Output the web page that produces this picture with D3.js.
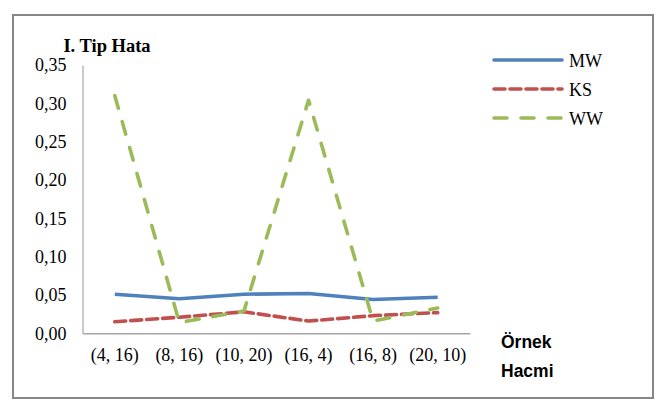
<!DOCTYPE html>
<html>
<head>
<meta charset="utf-8">
<script src="https://cdn.jsdelivr.net/npm/d3@7"></script>
<style>
  body { margin: 0; background: #fff; }
  svg { display: block; }
  .serif { font-family: "Liberation Serif", "Times New Roman", serif; }
  .sans { font-family: "Liberation Sans", Arial, sans-serif; }
</style>
</head>
<body>
<svg id="chart" width="663" height="400"></svg>
<script>
// Sample size pairs along the x axis
const categories = ["(4, 16)", "(8, 16)", "(10, 20)", "(16, 4)", "(16, 8)", "(20, 10)"];
// Type I error rates per test
const mwValues = [0.051, 0.045, 0.051, 0.052, 0.044, 0.047];
const ksValues = [0.015, 0.021, 0.028, 0.016, 0.023, 0.027];
const wwValues = [0.310, 0.014, 0.029, 0.304, 0.016, 0.033];
const yTicks = [0, 0.05, 0.10, 0.15, 0.20, 0.25, 0.30, 0.35];
const seriesNames = ["MW", "KS", "WW"];

const series = [
  { name: seriesNames[0], values: mwValues, color: "#4f81bd", dash: null },
  { name: seriesNames[1], values: ksValues, color: "#c0504d", dash: "11,5" },
  { name: seriesNames[2], values: wwValues, color: "#9bbb59", dash: "13,14" }
];

const svg = d3.select("#chart");

// Outer frame
svg.append("rect")
  .attr("x", 13).attr("y", 15).attr("width", 640).attr("height", 383)
  .attr("fill", "#fff").attr("stroke", "#878787").attr("stroke-width", 2);

const plot = { left: 82.5, right: 470, top: 65, bottom: 333.3 };

const x = d3.scaleBand().domain(categories).range([plot.left, plot.right]);
const y = d3.scaleLinear().domain([0, 0.35]).range([plot.bottom, plot.top]);

// Y axis
const yAxis = svg.append("g")
  .attr("transform", `translate(${plot.left},0)`)
  .call(d3.axisLeft(y).tickValues(yTicks).tickSize(0).tickPadding(16)
    .tickFormat(d => d3.format(".2f")(d).replace(".", ",")));
yAxis.attr("font-family", null).attr("font-size", null);
yAxis.select(".domain").attr("stroke", "#a6a6a6").attr("stroke-width", 1.2);
yAxis.selectAll("text").attr("class", "serif").style("font-size", "18px").attr("fill", "#000");

// X axis
const xAxis = svg.append("g")
  .attr("transform", `translate(0,${plot.bottom})`)
  .call(d3.axisBottom(x).tickSize(0).tickPadding(15));
xAxis.attr("font-family", null).attr("font-size", null);
xAxis.select(".domain").attr("stroke", "#a6a6a6").attr("stroke-width", 1.5);
xAxis.selectAll("text").attr("class", "serif").style("font-size", "18px").attr("fill", "#000");

// Series lines
const line = d3.line()
  .x((d, i) => x(categories[i]) + x.bandwidth() / 2)
  .y(d => y(d));

series.forEach(s => {
  svg.append("path")
    .datum(s.values)
    .attr("d", line)
    .attr("fill", "none")
    .attr("stroke", s.color)
    .attr("stroke-width", 3.6)
    .attr("stroke-linecap", s.dash ? "round" : "butt")
    .attr("stroke-linejoin", "round")
    .attr("stroke-dasharray", s.dash);
});

// Axis titles
svg.append("text")
  .attr("class", "serif")
  .attr("x", 107).attr("y", 52)
  .attr("text-anchor", "middle")
  .style("font-weight", "bold").style("font-size", "18.5px")
  .text("I. Tip Hata");

svg.append("text")
  .attr("class", "sans")
  .attr("x", 501).attr("y", 348)
  .style("font-weight", "bold").style("font-size", "17.5px")
  .text("Örnek");
svg.append("text")
  .attr("class", "sans")
  .attr("x", 501).attr("y", 377)
  .style("font-weight", "bold").style("font-size", "17.5px")
  .text("Hacmi");

// Legend
const legendY = [60, 89, 118];
series.forEach((s, i) => {
  const g = svg.append("g").attr("transform", `translate(0,${legendY[i]})`);
  g.append("line")
    .attr("x1", 494).attr("x2", 562).attr("y1", 0).attr("y2", 0)
    .attr("stroke", s.color).attr("stroke-width", 3.6)
    .attr("stroke-linecap", "round")
    .attr("stroke-dasharray", s.dash);
  g.append("text")
    .attr("class", "serif")
    .attr("x", 569).attr("y", 6.5)
    .style("font-size", "18px")
    .text(s.name);
});
</script>
</body>
</html>
